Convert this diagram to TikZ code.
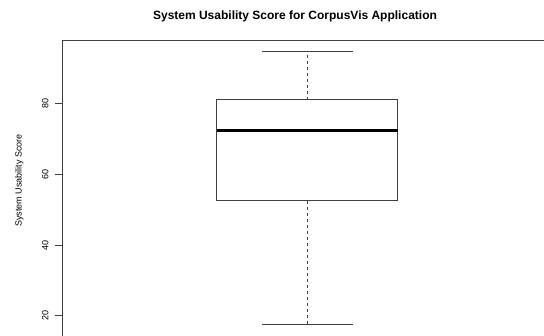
\documentclass[tikz,border=0pt]{standalone}
\usepackage{fontspec}
\setmainfont{Liberation Sans}

\begin{document}
\begin{tikzpicture}[
    x=1pt, y=-1pt,
    axisline/.style={draw=black!75, line width=0.9pt},
    boxline/.style={draw=black!75, line width=0.9pt},
    medianline/.style={draw=black, line width=2.6pt},
    whisker/.style={draw=black!75, line width=0.9pt, dash pattern=on 3pt off 3pt},
    sidetext/.style={rotate=90, anchor=base, font=\fontsize{9}{10}\selectfont},
  ]

    % Canvas of the cropped plot
    \useasboundingbox (0,0) rectangle (544,335);
    \clip (0,0) rectangle (544,335);

    % Title
    \node[anchor=base, font=\fontsize{12}{14}\selectfont\bfseries] (title) at (295,19.7) {System Usability Score for CorpusVis Application};

    % Axis label
    \node[sidetext] (ylab) at (21.5,180.5) {System Usability Score};

    % Plot frame (runs past the crop)
    \draw[axisline] (62.3,345) -- (62.3,40.3) -- (560,40.3);

    % Data part: y in score units
    \begin{scope}[y=3.527pt, yshift=-386.1pt]
      \def\xmid{307.2}

      % Ticks and tick labels
      \foreach \v in {20,40,60,80} {
        \draw[axisline] (62.3,\v) -- (55,\v);
        \node[sidetext] (tick\v) at (48.3,\v) {\v};
      }

      % Whiskers
      \draw[whisker] (\xmid,81.25) -- (\xmid,95);
      \draw[whisker] (\xmid,52.5) -- (\xmid,17.5);
      \draw[boxline] (262.3,95) -- (352.7,95);
      \draw[boxline] (262.3,17.5) -- (352.7,17.5);

      % Box and median
      \draw[boxline] (216.7,52.5) rectangle (397.7,81.25);
      \draw[medianline] (216.7,72.5) -- (397.7,72.5);
    \end{scope}

  \end{tikzpicture}
\end{document}
